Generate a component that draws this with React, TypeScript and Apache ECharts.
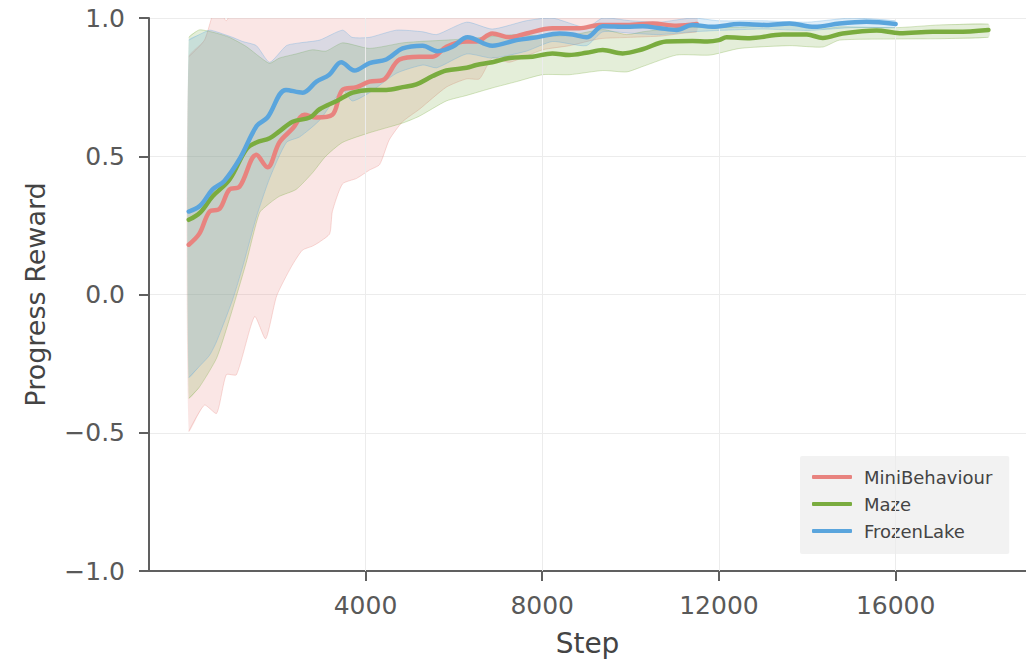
import React, { useEffect, useRef } from "react";
import * as echarts from "echarts";

// ---------- data ----------
const seriesNames = ["MiniBehaviour", "Maze", "FrozenLake"];
const xTicks = [4000, 8000, 12000, 16000];
const yTicks = [-1, -0.5, 0, 0.5, 1];

// MiniBehaviour mean
const miniX = [0, 240, 470, 700, 920, 1150, 1530, 1780, 2050, 2350, 2620, 2890, 3250, 3480, 3800, 4090, 4390, 4770, 5220, 5520, 5830, 6290, 6510, 6870, 7260, 7640, 8230, 8840, 9300, 9910, 10500, 11040, 11500];
const miniY = [0.18, 0.22, 0.30, 0.31, 0.38, 0.39, 0.505, 0.46, 0.55, 0.60, 0.65, 0.64, 0.65, 0.74, 0.75, 0.77, 0.775, 0.85, 0.86, 0.86, 0.896, 0.915, 0.915, 0.944, 0.93, 0.944, 0.963, 0.963, 0.975, 0.975, 0.98, 0.972, 0.978];
// MiniBehaviour band
const miniBandX = [0, 355, 630, 850, 1080, 1490, 1740, 1990, 2320, 2570, 2800, 2960, 3190, 3250, 3480, 3800, 4090, 4320, 4540, 4840, 5220, 5830, 6290, 6580, 6870, 7260, 8010, 8620, 9300, 10000, 10700, 11200, 11500];
const miniLow = [-0.495, -0.40, -0.43, -0.29, -0.29, -0.08, -0.16, -0.005, 0.10, 0.16, 0.175, 0.19, 0.22, 0.30, 0.40, 0.42, 0.45, 0.47, 0.56, 0.625, 0.67, 0.75, 0.78, 0.78, 0.855, 0.84, 0.885, 0.90, 0.925, 0.93, 0.935, 0.945, 0.95];
const miniHigh = [0.86, 0.92, 1.05, 0.99, 1.07, 1.06, 1.10, 1.08, 1.10, 1.14, 1.11, 1.09, 1.08, 1.00, 1.08, 1.08, 1.09, 1.08, 1.06, 1.08, 1.05, 1.04, 1.05, 1.06, 1.03, 1.02, 1.03, 1.03, 1.025, 1.02, 1.02, 1.01, 1.006];

// Maze mean
const mazeX = [0, 250, 540, 920, 1300, 1530, 1830, 2050, 2350, 2740, 2960, 3350, 3710, 4090, 4470, 4840, 5150, 5520, 5830, 6290, 6510, 6870, 7260, 7780, 8230, 8610, 9000, 9370, 9820, 10270, 10810, 11400, 11740, 12000, 12170, 12700, 13440, 13990, 14350, 14800, 15570, 16090, 16840, 17380, 18100];
const mazeY = [0.27, 0.295, 0.355, 0.415, 0.525, 0.55, 0.565, 0.59, 0.625, 0.64, 0.67, 0.70, 0.73, 0.74, 0.74, 0.75, 0.76, 0.79, 0.81, 0.82, 0.83, 0.84, 0.855, 0.86, 0.872, 0.866, 0.874, 0.884, 0.872, 0.887, 0.915, 0.917, 0.915, 0.92, 0.93, 0.927, 0.94, 0.94, 0.928, 0.944, 0.955, 0.945, 0.95, 0.95, 0.957];
// Maze band
const mazeBandX = [0, 240, 630, 920, 1300, 1600, 1830, 2050, 2430, 2800, 3100, 3480, 4090, 4840, 5220, 5830, 6290, 6870, 7420, 8010, 8620, 9370, 9910, 10280, 11040, 11800, 12470, 13600, 14350, 14730, 16000, 17000, 18100];
const mazeLow = [-0.375, -0.335, -0.23, -0.09, 0.115, 0.295, 0.33, 0.355, 0.38, 0.44, 0.50, 0.55, 0.585, 0.62, 0.645, 0.70, 0.72, 0.747, 0.77, 0.795, 0.795, 0.81, 0.805, 0.825, 0.866, 0.866, 0.89, 0.90, 0.895, 0.92, 0.924, 0.925, 0.93];
const mazeHigh = [0.93, 0.957, 0.945, 0.93, 0.897, 0.86, 0.836, 0.855, 0.87, 0.885, 0.88, 0.91, 0.89, 0.91, 0.915, 0.92, 0.925, 0.933, 0.94, 0.935, 0.937, 0.958, 0.94, 0.95, 0.965, 0.967, 0.966, 0.98, 0.961, 0.968, 0.965, 0.975, 0.978];

// FrozenLake mean
const frozenX = [0, 250, 540, 800, 1150, 1540, 1780, 2200, 2580, 2890, 3180, 3450, 3750, 4090, 4470, 4840, 5290, 5630, 5970, 6310, 6870, 7420, 7870, 8390, 8690, 9000, 9370, 9910, 10280, 10660, 11040, 11400, 11850, 12470, 13070, 13600, 14160, 14730, 15340, 16000];
const frozenY = [0.30, 0.32, 0.38, 0.41, 0.49, 0.61, 0.64, 0.74, 0.73, 0.77, 0.795, 0.84, 0.81, 0.837, 0.85, 0.89, 0.90, 0.88, 0.896, 0.93, 0.90, 0.92, 0.93, 0.944, 0.94, 0.93, 0.97, 0.968, 0.97, 0.963, 0.957, 0.975, 0.968, 0.978, 0.975, 0.98, 0.968, 0.98, 0.986, 0.978];
// FrozenLake band
const frozenBandX = [0, 240, 470, 630, 990, 1220, 1530, 1830, 2210, 2510, 2960, 3480, 3700, 4090, 4700, 5300, 5610, 6290, 6870, 7640, 8230, 9000, 9370, 10000, 10660, 11400, 12000, 13000, 14000, 15000, 16000];
const frozenLow = [-0.30, -0.26, -0.22, -0.17, -0.02, 0.10, 0.28, 0.42, 0.55, 0.57, 0.63, 0.74, 0.70, 0.73, 0.80, 0.83, 0.82, 0.87, 0.855, 0.88, 0.915, 0.90, 0.95, 0.945, 0.94, 0.95, 0.955, 0.96, 0.955, 0.965, 0.965];
const frozenHigh = [0.92, 0.94, 0.956, 0.95, 0.93, 0.915, 0.90, 0.84, 0.90, 0.91, 0.92, 0.956, 0.93, 0.93, 0.956, 0.95, 0.94, 0.985, 0.96, 0.99, 1.0, 0.965, 1.0, 0.99, 0.985, 1.0, 0.99, 0.99, 0.985, 1.0, 0.99];

// ---------- styles ----------
const COLORS = ["#e8837f", "#7aac3f", "#5aa5dd"];
const RGB = [
  [232, 131, 127],
  [122, 172, 63],
  [90, 165, 221],
];
const FONT = "DejaVu Sans";
const AXIS_COLOR = "#606060";
const TEXT_COLOR = "#595959";

function rgba(i: number, a: number) {
  const c = RGB[i];
  return `rgba(${c[0]},${c[1]},${c[2]},${a})`;
}

function bandSeries(i: number, bx: number[], lo: number[], hi: number[]) {
  return {
    type: "custom",
    name: seriesNames[i] + " band",
    silent: true,
    clip: true,
    z: 1,
    data: [[bx[0], lo[0]]],
    renderItem: (_params: any, api: any) => {
      const up = bx.map((x, k) => api.coord([x, hi[k]]));
      const dn = bx.map((x, k) => api.coord([x, lo[k]]));
      const poly = up.concat(dn.slice().reverse());
      return {
        type: "group",
        children: [
          { type: "polygon", shape: { points: poly, smooth: 0.2 }, style: { fill: rgba(i, 0.2), stroke: "none" } },
          { type: "polyline", shape: { points: up, smooth: 0.2 }, style: { fill: "none", stroke: rgba(i, 0.3), lineWidth: 1 } },
          { type: "polyline", shape: { points: dn, smooth: 0.2 }, style: { fill: "none", stroke: rgba(i, 0.3), lineWidth: 1 } },
        ],
      };
    },
  };
}

function lineSeries(i: number, xs: number[], ys: number[]) {
  return {
    type: "line",
    name: seriesNames[i],
    z: 5 + i,
    data: xs.map((x, k) => [x, ys[k]]),
    showSymbol: false,
    symbol: "none",
    smooth: 0.35,
    lineStyle: { color: COLORS[i], width: 4.5, cap: "round", join: "round" },
    itemStyle: { color: COLORS[i] },
  };
}

export default function App() {
  const ref = useRef<HTMLDivElement>(null);
  useEffect(() => {
    if (!ref.current) return;
    const chart = echarts.init(ref.current, null, { renderer: "svg" });
    chart.setOption({
      animation: false,
      backgroundColor: "#ffffff",
      grid: { left: 149, right: 0, top: 18, bottom: 81, containLabel: false },
      legend: {
        data: seriesNames,
        orient: "vertical",
        left: 800,
        top: 456,
        backgroundColor: "#f2f2f2",
        borderRadius: 2,
        padding: [12, 17, 14, 12],
        itemWidth: 40,
        itemHeight: 4,
        itemGap: 9,
        icon: "roundRect",
        textStyle: { fontFamily: FONT, fontSize: 18, color: "#444444", padding: [0, 0, 0, 7] },
      },
      xAxis: {
        type: "value",
        min: -900,
        max: 18950,
        name: "Step",
        nameLocation: "middle",
        nameGap: 58,
        nameTextStyle: { fontFamily: FONT, fontSize: 28, color: "#444444" },
        axisLine: { show: true, onZero: false, lineStyle: { color: AXIS_COLOR, width: 2 } },
        axisTick: { show: true, customValues: xTicks, length: 10, lineStyle: { color: AXIS_COLOR, width: 2 } },
        axisLabel: {
          customValues: xTicks,
          fontFamily: FONT,
          fontSize: 25,
          color: TEXT_COLOR,
          margin: 22,
          formatter: (v: number) => String(v),
        },
        splitLine: { show: false },
      },
      yAxis: {
        type: "value",
        min: yTicks[0],
        max: yTicks[yTicks.length - 1],
        interval: 0.5,
        name: "Progress Reward",
        nameLocation: "middle",
        nameGap: 100,
        nameTextStyle: { fontFamily: FONT, fontSize: 27, color: "#444444" },
        axisLine: { show: true, onZero: false, lineStyle: { color: AXIS_COLOR, width: 2 } },
        axisTick: { show: true, length: 10, lineStyle: { color: AXIS_COLOR, width: 2 } },
        axisLabel: {
          fontFamily: FONT,
          fontSize: 25,
          color: TEXT_COLOR,
          margin: 24,
          formatter: (v: number) => (v < 0 ? "\u2212" : "") + Math.abs(v).toFixed(1),
        },
        splitLine: { show: true, lineStyle: { color: "#ececec", width: 1 } },
      },
      series: [
        {
          type: "line",
          name: "grid-x",
          data: [],
          z: 0,
          silent: true,
          markLine: {
            silent: true,
            symbol: ["none", "none"],
            label: { show: false },
            lineStyle: { color: "#ececec", width: 1, type: "solid" },
            data: xTicks.map((v) => ({ xAxis: v })),
          },
        },
        bandSeries(0, miniBandX, miniLow, miniHigh),
        bandSeries(1, mazeBandX, mazeLow, mazeHigh),
        bandSeries(2, frozenBandX, frozenLow, frozenHigh),
        lineSeries(0, miniX, miniY),
        lineSeries(1, mazeX, mazeY),
        lineSeries(2, frozenX, frozenY),
      ],
    });
    return () => chart.dispose();
  }, []);
  return (
    <div
      ref={ref}
      style={{ position: "fixed", left: 0, top: 0, width: 1026, height: 662, background: "#fff" }}
    />
  );
}
